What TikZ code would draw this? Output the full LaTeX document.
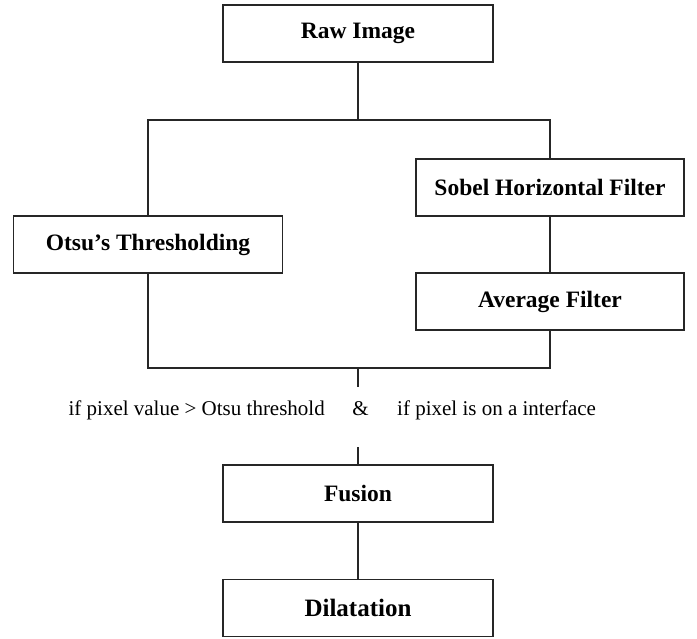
\documentclass[tikz,border=0pt]{standalone}
\usepackage{fontspec}
\setmainfont{Liberation Serif}
\tikzset{
  stage/.style={draw=black!85,line width=1.1pt,minimum width=270pt,minimum height=57pt,inner sep=0pt,font=\fontsize{23.5}{28}\selectfont\bfseries},
  cond/.style={inner sep=0pt,font=\fontsize{21}{25}\selectfont},
  link/.style={draw=black!85,line width=1.1pt}
}
\begin{document}
\begin{tikzpicture}[x=1pt,y=-1pt,line join=miter]
	\useasboundingbox (0,0) rectangle (697,639);
	\def\xmid{358};
	\def\xleft{148};
	\def\xright{550};
	% stages
	\node[stage] (raw) at (\xmid,33.5) {Raw Image};
	\node[stage,minimum width=268pt] (sobel) at (\xright,187.5) {Sobel Horizontal Filter};
	\node[stage,minimum width=269pt] (otsu) at (\xleft,244.5) {Otsu's Thresholding};
	\node[stage,minimum width=268pt] (avg) at (\xright,301.5) {Average Filter};
	\node[stage] (fusion) at (\xmid,493.5) {Fusion};
	\node[stage,font=\fontsize{25}{30}\selectfont\bfseries] (dil) at (\xmid,608) {Dilatation};
	% branch points
	\coordinate (split) at (\xmid,120);
	\coordinate (merge) at (\xmid,368);
	\coordinate (gapA) at (\xmid,387);
	\coordinate (gapB) at (\xmid,447);
	% conditions
	\node[cond,anchor=base] (amp) at (\xmid+2.5,415) {\&};
	\node[cond,anchor=base east] (lhs) at (325,415) {if pixel value > Otsu threshold};
	\node[cond,anchor=base west] (rhs) at (397,415) {if pixel is on a interface};
	% connectors
	\draw[link] (raw) -- (split);
	\draw[link] (otsu.north) |- (split) -| (sobel.north);
	\draw[link] (sobel) -- (avg);
	\draw[link] (otsu.south) |- (merge) -| (avg.south);
	\draw[link] (merge) -- (gapA);
	\draw[link] (gapB) -- (fusion);
	\draw[link] (fusion) -- (dil);
\end{tikzpicture}
\end{document}
